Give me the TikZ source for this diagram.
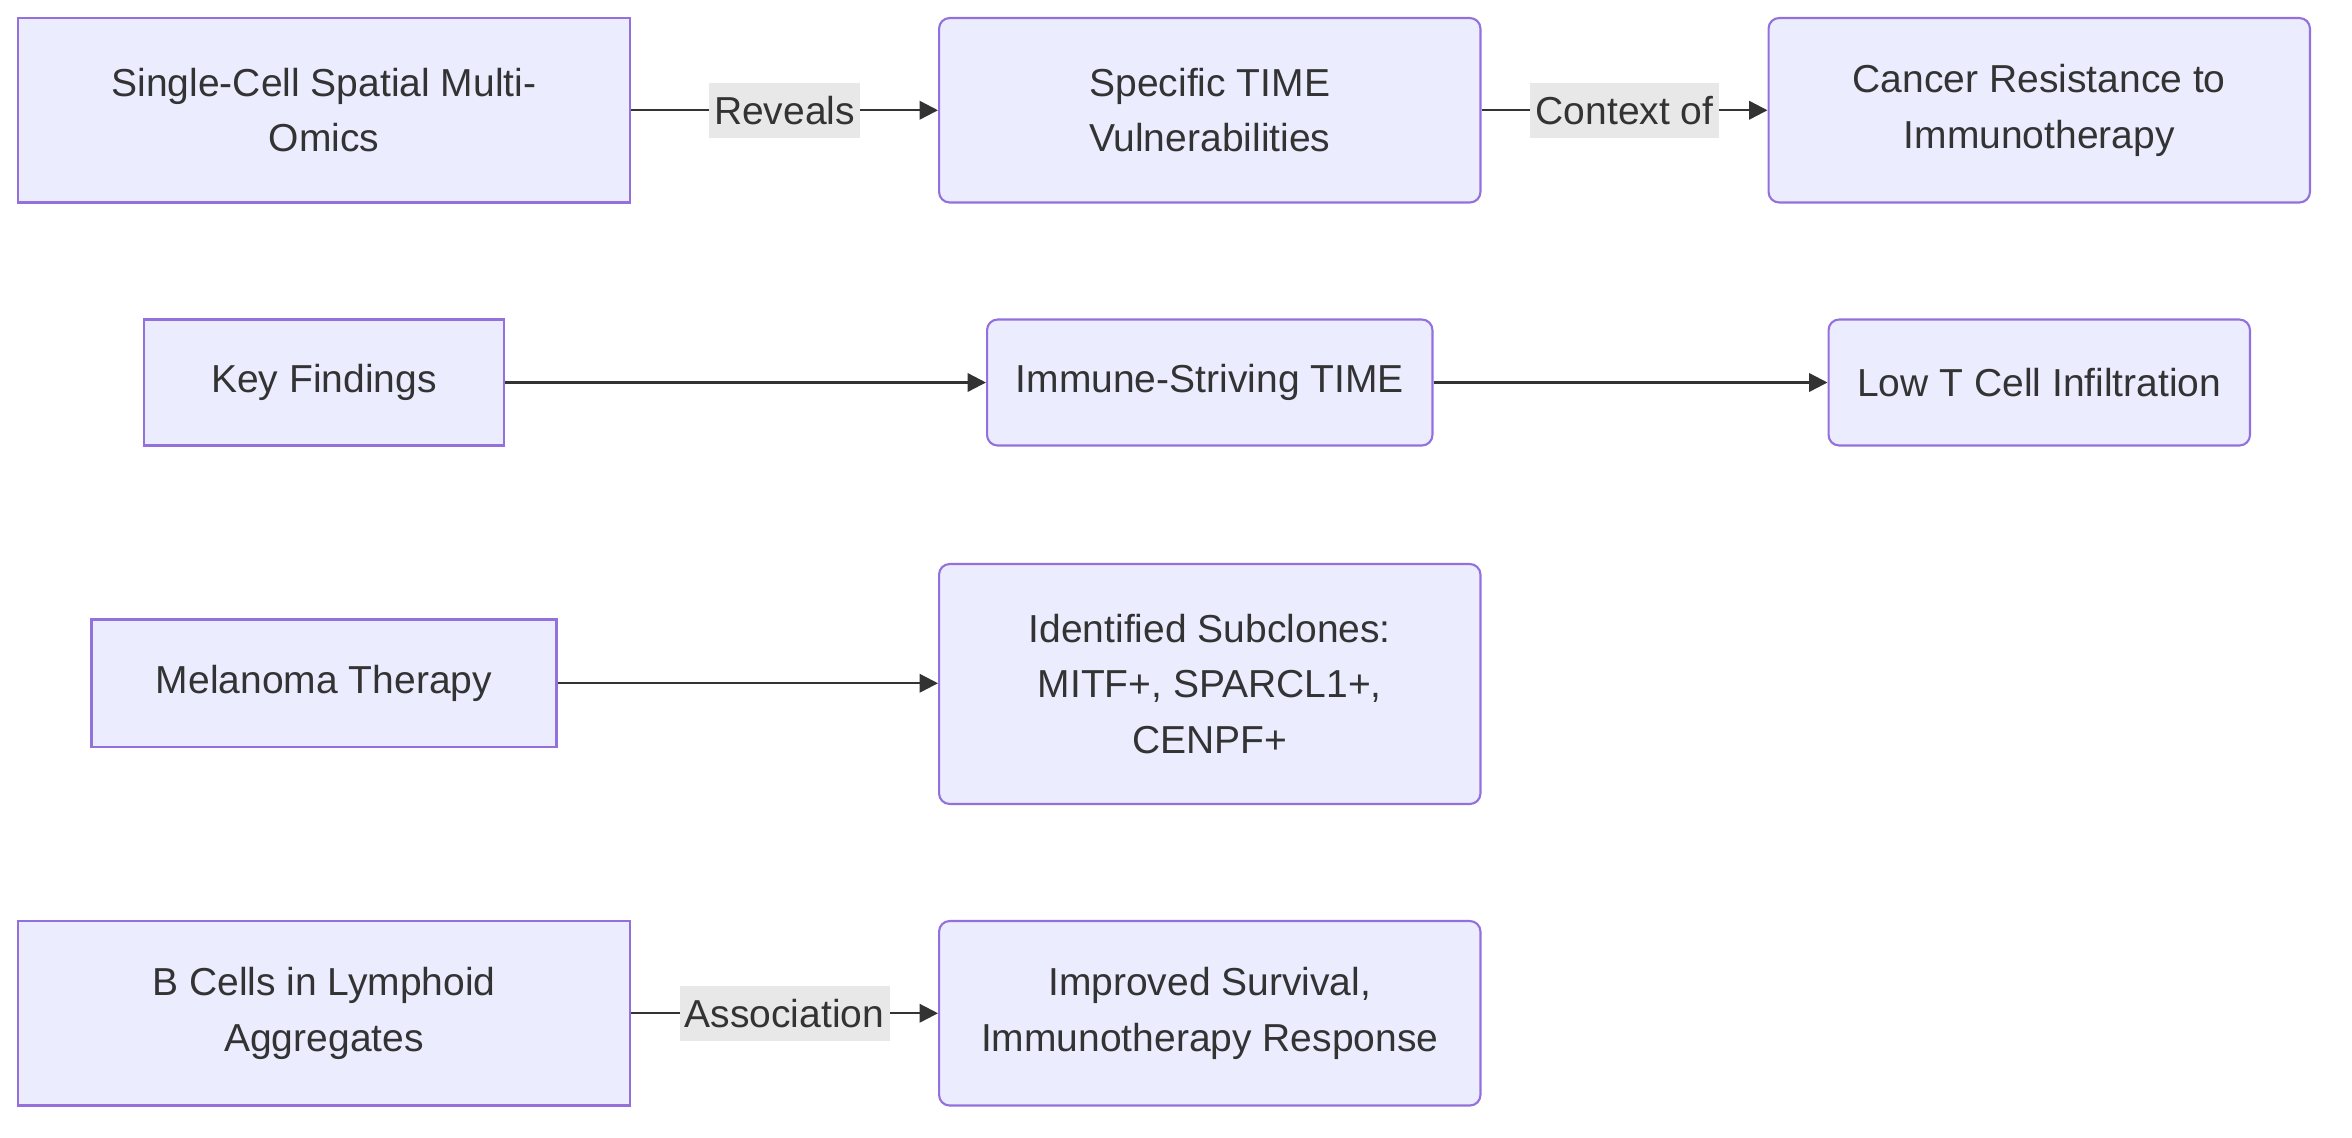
\documentclass[tikz,border=0pt]{standalone}
\usepackage{fontspec}
\setmainfont{Liberation Sans}
\usetikzlibrary{arrows.meta}
\definecolor{boxfill}{HTML}{ECECFF}
\definecolor{boxline}{HTML}{9370DB}
\definecolor{ink}{HTML}{333333}
\definecolor{lblbg}{HTML}{E8E8E8}
\begin{document}
\begin{tikzpicture}
	[x=0.02cm,y=-0.02cm,font=\fontsize{14.8}{21}\selectfont,
		base node/.style={draw=boxline,fill=boxfill,text=ink,align=center,line width=0.8pt,inner sep=0pt},
		round node/.style={base node,rounded corners=4pt},
		link/.style={-{Triangle[length=7pt,width=7pt]},draw=ink,line width=0.9pt},
		link label/.style={fill=lblbg,text=ink,inner sep=2pt,minimum height=0.74cm}]
	\useasboundingbox (0,0) rectangle (1568,758);

	\node[base node,minimum width=8.16cm,minimum height=2.46cm]  (omics) at (216,73.5) {Single-Cell Spatial Multi-\\Omics};
	\node[round node,minimum width=7.22cm,minimum height=2.46cm] (vuln)  at (806.5,73.5) {Specific TIME\\Vulnerabilities};
	\node[round node,minimum width=7.22cm,minimum height=2.46cm] (resist) at (1359.5,73.5) {Cancer Resistance to\\Immunotherapy};

	\node[base node,minimum width=4.8cm,minimum height=1.68cm]  (key)    at (216,255) {Key Findings};
	\node[round node,minimum width=5.94cm,minimum height=1.68cm] (strive) at (806.5,255) {Immune-Striving TIME};
	\node[round node,minimum width=5.62cm,minimum height=1.68cm] (lowt)   at (1359.5,255) {Low T Cell Infiltration};

	\node[base node,minimum width=6.2cm,minimum height=1.7cm]   (melan)  at (216,455.5) {Melanoma Therapy};
	\node[round node,minimum width=7.22cm,minimum height=3.2cm]  (subcl)  at (806.5,456) {Identified Subclones:\\MITF+, SPARCL1+,\\CENPF+};

	\node[base node,minimum width=8.16cm,minimum height=2.46cm]  (bcell)  at (216,675.5) {B Cells in Lymphoid\\Aggregates};
	\node[round node,minimum width=7.22cm,minimum height=2.46cm] (surv)   at (806.5,675.5) {Improved Survival,\\Immunotherapy Response};

	\draw[link] (omics) -- node[link label] {Reveals} (vuln);
	\draw[link] (vuln) -- node[link label] {Context of} (resist);
	\draw[link] (key) -- (strive);
	\draw[link] (strive) -- (lowt);
	\draw[link] (melan) -- (melan -| subcl.west);
	\draw[link] (bcell) -- node[link label] {Association} (surv);

\end{tikzpicture}
\end{document}
